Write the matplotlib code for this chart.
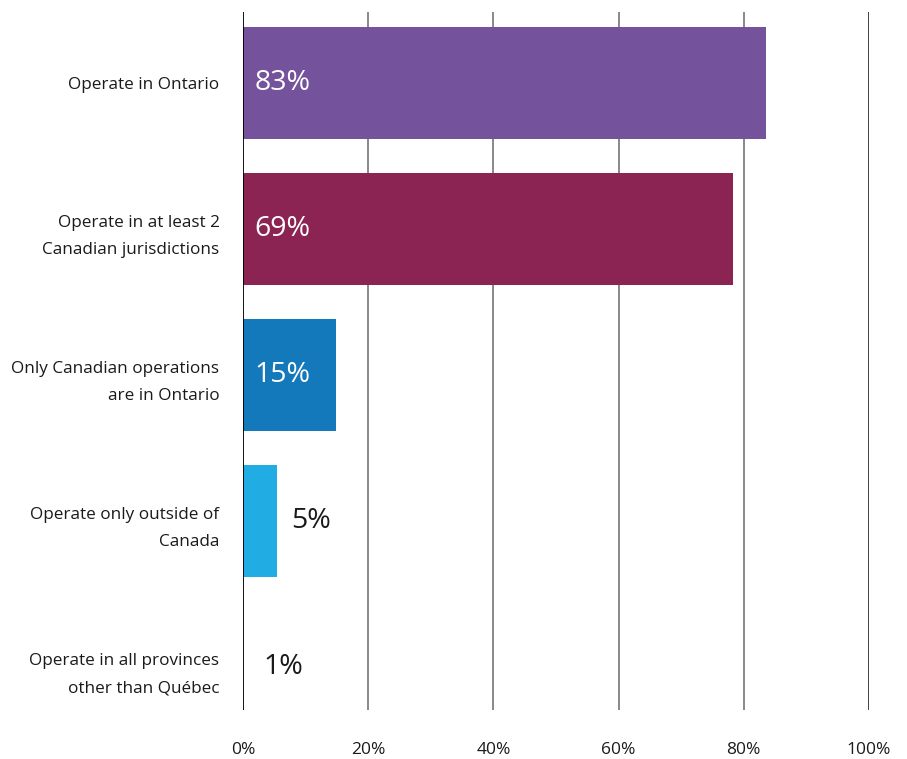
import matplotlib.pyplot as plt
from matplotlib.ticker import FuncFormatter

plt.rcParams['font.family'] = ['Open Sans', 'DejaVu Sans']

# chart data
categories = [
    'Operate in Ontario',
    'Operate in at least 2\nCanadian jurisdictions',
    'Only Canadian operations\nare in Ontario',
    'Operate only outside of\nCanada',
    'Operate in all provinces\nother than Québec',
]
bar_lengths = [83.6, 78.2, 14.8, 5.4, 1.0]   # as drawn in the source
value_labels = ['83%', '69%', '15%', '5%', '1%']
bar_colors = ['#75529c', '#8c2453', '#1479bb', '#21ace3', '#ffffff']
label_inside = [True, True, True, False, False]
x_ticks = [0, 20, 40, 60, 80, 100]

fig = plt.figure(figsize=(9.07, 7.59), dpi=100)
ax = fig.add_axes([243 / 907, 49 / 759, 626 / 907, 698 / 759])

ypos = list(range(len(categories)))
ax.barh(ypos, bar_lengths, height=0.77, color=bar_colors, zorder=2)

for y, length, lab, inside in zip(ypos, bar_lengths, value_labels, label_inside):
    if inside:
        ax.annotate(lab, (0, y), xytext=(8.5, 0), textcoords='offset points',
                    ha='left', va='center', fontsize=20.5, color='white', zorder=4)
    else:
        ax.annotate(lab, (length, y), xytext=(10.5, 0), textcoords='offset points',
                    ha='left', va='center', fontsize=20.5, color='#1a1a1a', zorder=4)

ax.set_xlim(0, 100)
ax.set_ylim(4.295, -0.486)

ax.set_xticks(x_ticks)
ax.xaxis.set_major_formatter(FuncFormatter(lambda v, _: f'{v:.0f}%'))
ax.set_yticks(ypos)
ax.set_yticklabels(categories, ha='right', fontsize=12.3, color='#1a1a1a',
                   linespacing=1.95)
ax.tick_params(axis='y', length=0, pad=17)
ax.tick_params(axis='x', length=0, pad=23, labelsize=12.5, labelcolor='#1a1a1a')

# vertical gridlines
for t in x_ticks[1:-1]:
    ax.axvline(t, color='#7f7f7f', linewidth=1.3, zorder=1)
ax.axvline(100, color='#333333', linewidth=1.3, zorder=1)
ax.axvline(0, color='black', linewidth=1.3, zorder=3)

for s in ax.spines.values():
    s.set_visible(False)

fig.savefig('out.png', dpi=100, facecolor='white')
